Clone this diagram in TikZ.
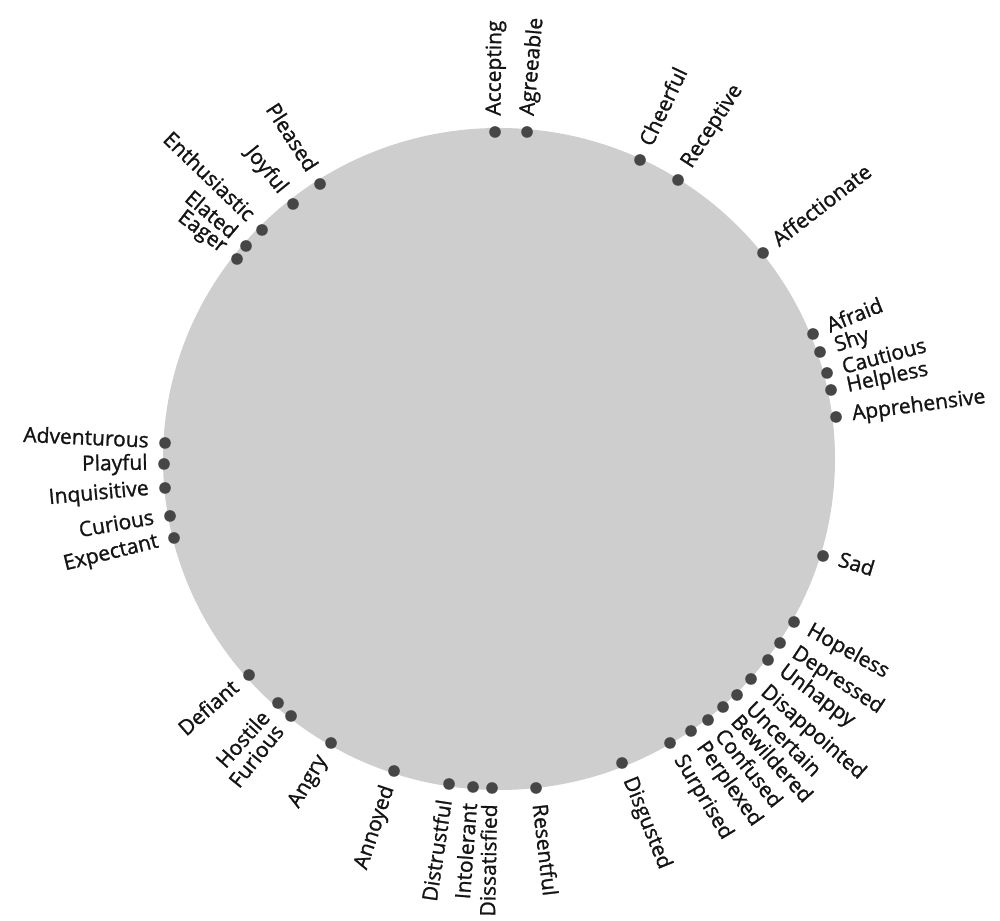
\documentclass[tikz,border=0pt]{standalone}
\usepackage{fontspec}
\setmainfont{Open Sans}
\newfontfamily\lblfont{Open Sans}[FakeBold=1.2]
\usetikzlibrary{calc}
\definecolor{disc}{RGB}{206,206,206}
\definecolor{dotc}{RGB}{70,70,70}
\definecolor{ink}{RGB}{20,20,20}
\begin{document}
\begin{tikzpicture}[x=0.5pt,y=0.5pt,
  dotnode/.style={circle,fill=dotc,inner sep=0pt,minimum size=5.8pt},
  lbl/.style={inner sep=0pt,text=ink,font=\lblfont\fontsize{10.5}{12}\selectfont}]
\useasboundingbox (0,0) rectangle (1000,920);
\fill[disc] (499,461) ellipse [x radius=336, y radius=331];
\foreach \x/\y/\a/\t [count=\i] in {
  495/788/89.5/Accepting,
  527/788/84.9/Agreeable,
  640/760/64.5/Cheerful,
  678/740/57.1/Receptive,
  763/667/37.7/Affectionate,
  813/586/21.9/Afraid,
  820/568/18.4/Shy,
  827/547/14.9/Cautious,
  831/530/11.7/Helpless,
  836/503/7.4/Apprehensive,
  823/364/-16.8/Sad,
  794/298/-29/Hopeless,
  780/277/-33.3/Depressed,
  768/260/-36.8/Unhappy,
  751/241/-41.1/Disappointed,
  737/225/-44.8/Uncertain,
  723/213/-47.9/Bewildered,
  708/200/-51.3/Confused,
  691/189/-54.7/Perplexed,
  670/177/-58.9/Surprised,
  622/157/-67.9/Disgusted,
  536/132/-83.4/Resentful,
  492/132/-91/Dissatisfied,
  473/133/-94.3/Intolerant,
  449/136/-98.5/Distrustful,
  394/149/-108.4/Annoyed,
  331/177/-120.4/Angry,
  291/204/-128.7/Furious,
  278/217/-131.9/Hostile,
  249/245/-138.9/Defiant,
  174/382/193.9/Expectant,
  170/404/190/Curious,
  165/432/185.3/Inquisitive,
  164/456/181/Playful,
  165/477/177.4/Adventurous,
  237/661/142.7/Eager,
  246/674/139.9/Elated,
  262/690/136/Enthusiastic,
  293/716/128.9/Joyful,
  320/736/123/Pleased}{
  \node[dotnode] (d\i) at (\x,\y) {};
  \pgfmathsetmacro\cosv{cos(\a)}
  \ifdim\cosv pt>0pt
    \node[lbl,anchor=mid west,rotate=\a] (l\i) at ($(d\i)+(\a:16)$) {\t};
  \else
    \pgfmathsetmacro\rot{\a+180}
    \node[lbl,anchor=mid east,rotate=\rot] (l\i) at ($(d\i)+(\a:16)$) {\t};
  \fi
}
\end{tikzpicture}
\end{document}
